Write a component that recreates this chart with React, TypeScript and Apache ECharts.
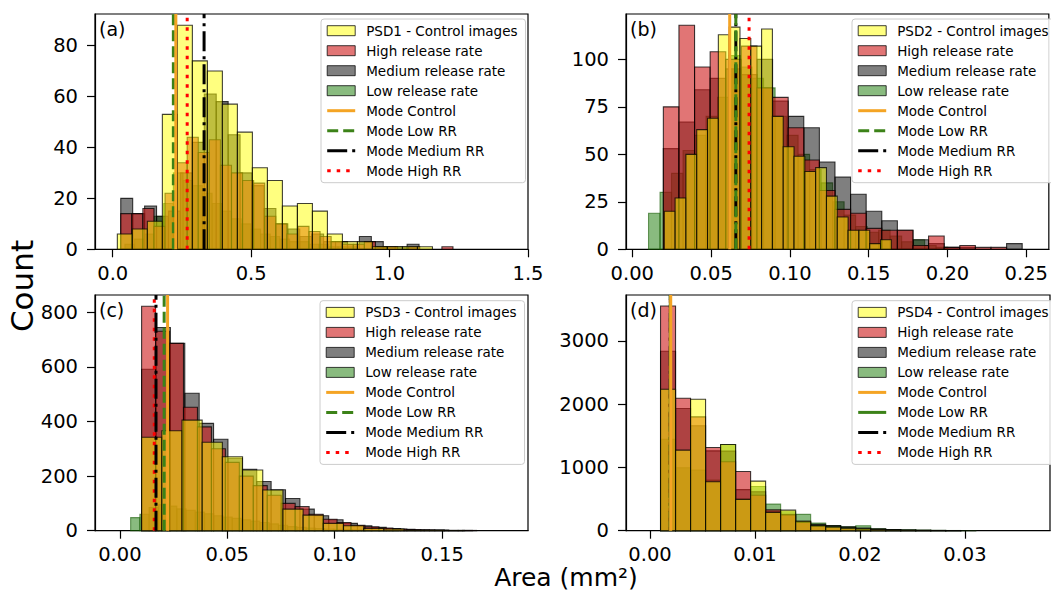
import React, { useEffect, useRef } from "react";
import * as echarts from "echarts";

// ---------- Data ----------
// Panel (a) — PSD1
const A_CTRL_START = 0.0167, A_CTRL_W = 0.0542;
const A_CTRL = [6, 8, 11, 53, 88, 74, 70, 57, 46, 32, 27, 17, 18, 15, 6, 3, 3, 1, 1, 1, 1];
const A_HIGH_START = 0.029, A_HIGH_W = 0.04;
const A_HIGH = [14, 14, 16, 9, 22, 34, 44, 38, 43, 33, 30, 27, 26, 13, 10, 6, 9, 7, 5, 3, 2, 2, 3, 1, 1, 0, 1, 0, 0, 1];
const A_MED_START = 0.029, A_MED_W = 0.0431;
const A_MED = [20, 14, 17, 13, 15, 30, 42, 61, 58, 45, 30, 25, 16, 10, 8, 5, 6, 3, 3, 2, 5, 3, 1, 1, 2];
const A_LOW_START = 0.044, A_LOW_W = 0.035;
const A_LOW = [2, 4, 6, 13, 18, 30, 27, 25, 22, 18, 15, 12, 10, 8, 6, 5, 4, 3, 3, 2, 2, 1, 1, 1, 0, 0, 1];
const A_MODES = [0.228, 0.219, 0.33, 0.269]; // Control, Low, Medium, High

// Panel (b) — PSD2
const B_CTRL_START = 0.0203, B_CTRL_W = 0.00686;
const B_CTRL = [20, 27, 50, 63, 69, 113, 117, 111, 107, 116, 70, 54, 49, 41, 43, 28, 17, 10, 10, 3, 5];
const B_HIGH_START = 0.0197, B_HIGH_W = 0.0099;
const B_HIGH = [75, 118, 96, 104, 100, 107, 85, 80, 64, 47, 31, 21, 19, 11, 10, 10, 2, 7, 1, 2, 1, 1];
const B_MED_START = 0.0197, B_MED_W = 0.0099;
const B_MED = [53, 67, 84, 90, 95, 92, 100, 78, 70, 64, 46, 38, 29, 20, 15, 10, 5, 3, 1, 1, 0, 0, 3];
const B_LOW_START = 0.0103, B_LOW_W = 0.0073;
const B_LOW = [19, 30, 40, 52, 60, 70, 80, 102, 96, 90, 85, 70, 60, 50, 42, 35, 25, 18, 12, 9, 10, 7, 4, 5, 2, 1];
const B_MODES = [0.0618, 0.0657, 0.0657, 0.0741];

// Panel (c) — PSD3
const C_CTRL_START = 0.0101, C_CTRL_W = 0.0094;
const C_CTRL = [342, 366, 405, 324, 271, 222, 149, 79, 57, 27, 18, 8, 6, 2, 2, 1];
const C_HIGH_START = 0.0101, C_HIGH_W = 0.0065;
const C_HIGH = [822, 730, 686, 452, 380, 300, 250, 200, 165, 130, 100, 88, 60, 42, 30, 20, 14, 10, 6, 4, 3, 2, 1, 1];
const C_MED_START = 0.0101, C_MED_W = 0.0067;
const C_MED = [591, 744, 686, 503, 393, 335, 265, 225, 180, 150, 118, 79, 55, 40, 27, 18, 12, 8, 5, 3, 2, 1, 1];
const C_LOW_START = 0.005, C_LOW_W = 0.0043;
const C_LOW = [48, 60, 85, 95, 90, 80, 75, 68, 62, 55, 50, 45, 40, 35, 30, 25, 20, 15, 12, 10, 8, 6, 5, 4, 3, 2, 2, 1, 1];
const C_MODES = [0.0222, 0.0206, 0.0168, 0.016];

// Panel (d) — PSD4
const D_CTRL_START = 0.001, D_CTRL_W = 0.00143;
const D_CTRL = [2237, 1274, 2079, 774, 1363, 495, 784, 290, 326, 150, 80, 60, 40, 30, 20, 12, 8, 5, 3, 2, 1];
const D_HIGH_START = 0.001, D_HIGH_W = 0.00143;
const D_HIGH = [3553, 2095, 1800, 1316, 1090, 935, 560, 330, 250, 130, 70, 50, 30, 20, 15, 10, 5, 3, 2, 1];
const D_MED_START = 0.001, D_MED_W = 0.00143;
const D_MED = [2837, 1932, 1660, 1263, 1258, 650, 616, 300, 260, 150, 100, 80, 60, 40, 30, 20, 10, 6, 4, 2];
const D_LOW_START = 0.001, D_LOW_W = 0.00143;
const D_LOW = [1447, 995, 960, 800, 1363, 500, 700, 420, 300, 258, 120, 80, 60, 79, 30, 20, 15, 10, 5, 3, 2];
const D_MODES = [0.00197, 0.00193, 0.00193, 0.00193];

// Axes
const A_XTICKS = [0, 0.5, 1.0, 1.5];
const B_XTICKS = [0, 0.05, 0.1, 0.15, 0.2, 0.25];
const C_XTICKS = [0, 0.05, 0.1, 0.15];
const D_XTICKS = [0, 0.01, 0.02, 0.03];
const A_YTICKS = [0, 20, 40, 60, 80];
const B_YTICKS = [0, 25, 50, 75, 100];
const C_YTICKS = [0, 200, 400, 600, 800];
const D_YTICKS = [0, 1000, 2000, 3000];

const PANEL_LABELS = ["(a)", "(b)", "(c)", "(d)"];
const CTRL_NAMES = ["PSD1 - Control images", "PSD2 - Control images", "PSD3 - Control images", "PSD4 - Control images"];
const HIGH_NAME = "High release rate";
const MED_NAME = "Medium release rate";
const LOW_NAME = "Low release rate";
const MODE_NAMES = ["Mode Control", "Mode Low RR", "Mode Medium RR", "Mode High RR"];

// ---------- Styles ----------
const FONT = "DejaVu Sans";
const YELLOW = "rgba(255,255,0,0.5)";
const RED = "rgba(205,25,25,0.6)";
const GREY = "rgba(0,0,0,0.5)";
const GREEN = "rgba(20,120,0,0.5)";
const EDGE = "rgba(0,0,0,0.75)";
const GREEN_EDGE = "rgba(20,90,0,0.6)";
const MODE_COLORS = ["#f4a424", "#3c8218", "#000000", "#ff0000"];

type Hist = { start: number; width: number; counts: number[] };

const panels = [
  {
    ctrl: { start: A_CTRL_START, width: A_CTRL_W, counts: A_CTRL },
    high: { start: A_HIGH_START, width: A_HIGH_W, counts: A_HIGH },
    med: { start: A_MED_START, width: A_MED_W, counts: A_MED },
    low: { start: A_LOW_START, width: A_LOW_W, counts: A_LOW },
    modes: A_MODES, xticks: A_XTICKS, yticks: A_YTICKS, xdec: 1,
    xmin: -0.064, xmax: 1.5, ymax: 92.4,
    grid: { left: 95, top: 14, width: 433, height: 235.3 },
    legend: { left: 321, top: 19 },
    lowSolid: false,
  },
  {
    ctrl: { start: B_CTRL_START, width: B_CTRL_W, counts: B_CTRL },
    high: { start: B_HIGH_START, width: B_HIGH_W, counts: B_HIGH },
    med: { start: B_MED_START, width: B_MED_W, counts: B_MED },
    low: { start: B_LOW_START, width: B_LOW_W, counts: B_LOW },
    modes: B_MODES, xticks: B_XTICKS, yticks: B_YTICKS, xdec: 2,
    xmin: -0.004, xmax: 0.2643, ymax: 123.9,
    grid: { left: 626, top: 14, width: 424, height: 235.3 },
    legend: { left: 852, top: 19 },
    lowSolid: false,
  },
  {
    ctrl: { start: C_CTRL_START, width: C_CTRL_W, counts: C_CTRL },
    high: { start: C_HIGH_START, width: C_HIGH_W, counts: C_HIGH },
    med: { start: C_MED_START, width: C_MED_W, counts: C_MED },
    low: { start: C_LOW_START, width: C_LOW_W, counts: C_LOW },
    modes: C_MODES, xticks: C_XTICKS, yticks: C_YTICKS, xdec: 2,
    xmin: -0.0116, xmax: 0.19, ymax: 863,
    grid: { left: 95, top: 295, width: 433, height: 235.7 },
    legend: { left: 320, top: 300.7 },
    lowSolid: false,
  },
  {
    ctrl: { start: D_CTRL_START, width: D_CTRL_W, counts: D_CTRL },
    high: { start: D_HIGH_START, width: D_HIGH_W, counts: D_HIGH },
    med: { start: D_MED_START, width: D_MED_W, counts: D_MED },
    low: { start: D_LOW_START, width: D_LOW_W, counts: D_LOW },
    modes: D_MODES, xticks: D_XTICKS, yticks: D_YTICKS, xdec: 2,
    xmin: -0.00229, xmax: 0.0381, ymax: 3727,
    grid: { left: 626, top: 295, width: 424, height: 235.7 },
    legend: { left: 852, top: 300.7 },
    lowSolid: true,
  },
];

const toBins = (h: Hist) =>
  h.counts.map((c, i) => [h.start + i * h.width, h.start + (i + 1) * h.width, c]);

const histSeries = (name: string, h: Hist, p: number, fill: string, stroke: string) => ({
  type: "custom",
  name,
  xAxisIndex: p,
  yAxisIndex: p,
  data: toBins(h),
  encode: { x: [0, 1], y: 2 },
  itemStyle: { color: fill, borderColor: stroke },
  silent: true,
  renderItem: (_params: any, api: any) => {
    const c = api.value(2);
    if (!c) return null;
    const p0 = api.coord([api.value(0), c]);
    const p1 = api.coord([api.value(1), 0]);
    return {
      type: "rect",
      shape: { x: p0[0], y: p0[1], width: p1[0] - p0[0], height: p1[1] - p0[1] },
      style: { fill, stroke, lineWidth: 1.1 },
    };
  },
});

const DASH = [11, 5];
const DOT = [3.5, 6];
const DASHDOT = [20, 5, 3, 5];
const NO_SYMBOL = { color: "rgba(0,0,0,0)", borderWidth: 0, opacity: 0 };

function buildOption() {
  const grids: any[] = [];
  const xAxes: any[] = [];
  const yAxes: any[] = [];
  const series: any[] = [];
  const legends: any[] = [];
  const graphics: any[] = [];

  panels.forEach((P, p) => {
    const suf = "#" + p;
    grids.push({
      left: P.grid.left, top: P.grid.top, width: P.grid.width, height: P.grid.height,
      show: true, borderColor: "#000", borderWidth: 1.2, backgroundColor: "transparent",
    });
    xAxes.push({
      type: "value", gridIndex: p, min: P.xmin, max: P.xmax,
      axisLine: { show: true, onZero: false, lineStyle: { color: "#000", width: 1.2 } },
      axisTick: { show: true, length: 8, customValues: P.xticks, lineStyle: { color: "#000", width: 1.2 } },
      axisLabel: {
        customValues: P.xticks, margin: 14, color: "#000", fontSize: 19.5, fontFamily: FONT,
        formatter: (v: number) => v.toFixed(P.xdec),
      },
      splitLine: { show: false },
    });
    yAxes.push({
      type: "value", gridIndex: p, min: 0, max: P.ymax,
      axisLine: { show: true, onZero: false, lineStyle: { color: "#000", width: 1.2 } },
      axisTick: { show: true, length: 8, customValues: P.yticks, lineStyle: { color: "#000", width: 1.2 } },
      axisLabel: {
        customValues: P.yticks, margin: 17, color: "#000", fontSize: 19.5, fontFamily: FONT,
        formatter: (v: number) => String(v),
      },
      splitLine: { show: false },
    });

    series.push(histSeries(LOW_NAME + suf, P.low, p, GREEN, GREEN_EDGE));
    series.push(histSeries(MED_NAME + suf, P.med, p, GREY, EDGE));
    series.push(histSeries(HIGH_NAME + suf, P.high, p, RED, EDGE));
    series.push(histSeries(CTRL_NAMES[p] + suf, P.ctrl, p, YELLOW, EDGE));

    // mode lines, drawn High, Medium, Low, Control (control on top)
    const styles: any[] = [
      "solid",
      P.lowSolid ? "solid" : DASH,
      DASHDOT,
      DOT,
    ];
    [3, 2, 1, 0].forEach((m) => {
      series.push({
        type: "line",
        name: MODE_NAMES[m] + suf,
        xAxisIndex: p,
        yAxisIndex: p,
        data: [[P.modes[m], 0], [P.modes[m], P.ymax]],
        symbol: "none",
        silent: true,
        itemStyle: { color: MODE_COLORS[m] },
        lineStyle: { color: MODE_COLORS[m], width: 3, type: styles[m] },
      });
    });

    legends.push({
      orient: "vertical",
      left: P.legend.left,
      top: P.legend.top,
      itemWidth: 28,
      itemHeight: 10,
      itemGap: 6,
      padding: [4.7, 8, 5, 4.7],
      backgroundColor: "rgba(255,255,255,0.85)",
      borderColor: "#cccccc",
      borderWidth: 1,
      borderRadius: 3,
      selectedMode: false,
      formatter: (n: string) => n.split("#")[0],
      textStyle: { fontSize: 13.5, fontFamily: FONT, color: "#000", lineHeight: 14, padding: [0, 0, 0, 6] },
      lineStyle: { width: 3 },
      data: [
        { name: CTRL_NAMES[p] + suf, icon: "rect", itemStyle: { color: YELLOW, borderColor: EDGE, borderWidth: 1 } },
        { name: HIGH_NAME + suf, icon: "rect", itemStyle: { color: RED, borderColor: EDGE, borderWidth: 1 } },
        { name: MED_NAME + suf, icon: "rect", itemStyle: { color: GREY, borderColor: EDGE, borderWidth: 1 } },
        { name: LOW_NAME + suf, icon: "rect", itemStyle: { color: GREEN, borderColor: EDGE, borderWidth: 1 } },
        { name: MODE_NAMES[0] + suf, itemStyle: NO_SYMBOL },
        { name: MODE_NAMES[1] + suf, itemStyle: NO_SYMBOL },
        { name: MODE_NAMES[2] + suf, itemStyle: NO_SYMBOL },
        { name: MODE_NAMES[3] + suf, itemStyle: NO_SYMBOL },
      ],
    });

    graphics.push({
      type: "text",
      left: P.grid.left + 4,
      top: P.grid.top + 5,
      style: { text: PANEL_LABELS[p], fontSize: 19, fontFamily: FONT, fill: "#000" },
      z: 100,
    });
  });

  graphics.push({
    type: "text",
    x: 22,
    y: 286,
    rotation: Math.PI / 2,
    style: { text: "Count", fontSize: 31, fontFamily: FONT, fill: "#000", align: "center", verticalAlign: "middle" },
  });
  graphics.push({
    type: "text",
    x: 566,
    y: 577,
    style: { text: "Area (mm²)", fontSize: 25, fontFamily: FONT, fill: "#000", align: "center", verticalAlign: "middle" },
  });

  return {
    animation: false,
    backgroundColor: "#ffffff",
    grid: grids,
    xAxis: xAxes,
    yAxis: yAxes,
    legend: legends,
    series,
    graphic: graphics,
  };
}

export default function App() {
  const ref = useRef<HTMLDivElement>(null);
  useEffect(() => {
    if (!ref.current) return;
    const chart = echarts.init(ref.current, undefined, { renderer: "svg" });
    chart.setOption(buildOption() as any);
    return () => chart.dispose();
  }, []);
  return (
    <div
      ref={ref}
      style={{ position: "fixed", left: 0, top: 0, width: 1051, height: 594, background: "#fff" }}
    />
  );
}
